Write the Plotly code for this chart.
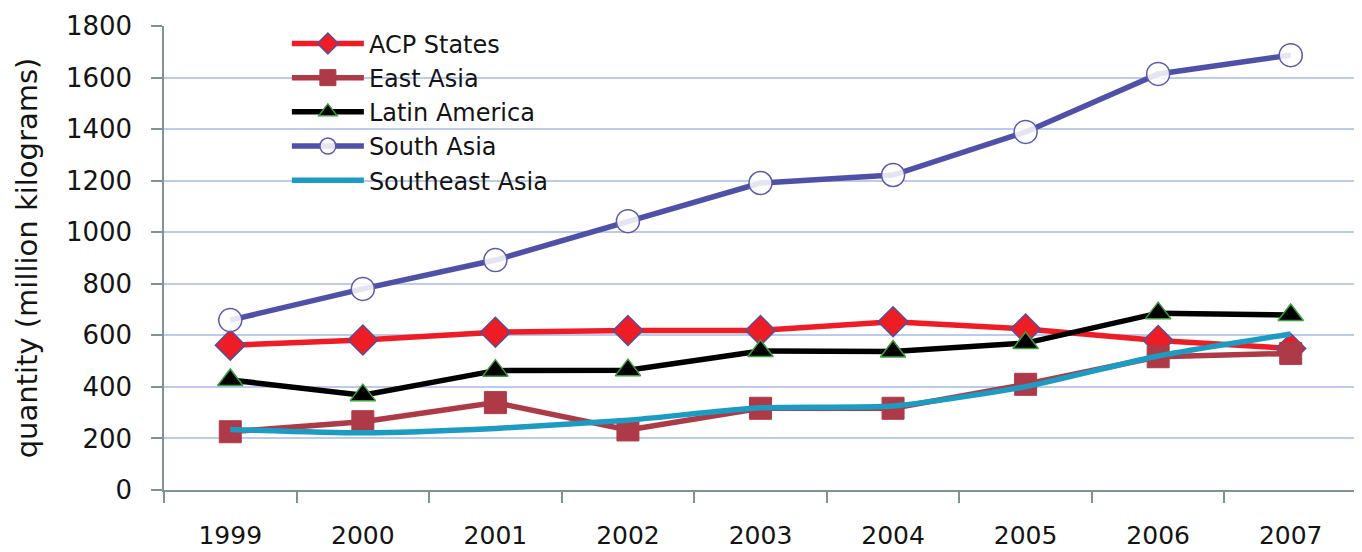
import plotly.graph_objects as go

years = ["1999", "2000", "2001", "2002", "2003", "2004", "2005", "2006", "2007"]
acp_states = [562, 582, 612, 619, 619, 653, 625, 580, 549]
east_asia = [226, 265, 339, 233, 317, 317, 410, 517, 530]
latin_america = [427, 368, 463, 465, 539, 537, 570, 686, 679]
south_asia = [659, 780, 892, 1043, 1191, 1222, 1389, 1614, 1687]
southeast_asia = [235, 222, 239, 271, 319, 326, 401, 520, 605]

y_ticks = [0, 200, 400, 600, 800, 1000, 1200, 1400, 1600, 1800]

FONT = "DejaVu Sans"
TXT = "#141414"
AXIS = "#7F9396"

fig = go.Figure()
fig.add_trace(go.Scatter(
    x=years, y=acp_states, name="ACP States", mode="lines+markers",
    line=dict(color="#EE1C25", width=5.5),
    marker=dict(symbol="diamond", size=23, color="#EE1C25",
                line=dict(color="#5A4E9A", width=1.5)),
))
fig.add_trace(go.Scatter(
    x=years, y=east_asia, name="East Asia", mode="lines+markers",
    line=dict(color="#AE3A47", width=5.5),
    marker=dict(symbol="square", size=22, color="#AE3A47",
                line=dict(color="#AE3A47", width=1)),
))
fig.add_trace(go.Scatter(
    x=years, y=latin_america, name="Latin America", mode="lines+markers",
    line=dict(color="#000000", width=5.5),
    marker=dict(symbol="triangle-up", size=22, color="#000000",
                line=dict(color="#3E9E3A", width=1.5)),
))
fig.add_trace(go.Scatter(
    x=years, y=south_asia, name="South Asia", mode="lines+markers",
    line=dict(color="#4F51A8", width=5.5),
    marker=dict(symbol="circle", size=23, color="rgba(255,255,255,0.85)",
                line=dict(color="#5A5AAE", width=1.5)),
))
fig.add_trace(go.Scatter(
    x=years, y=southeast_asia, name="Southeast Asia", mode="lines",
    line=dict(color="#1C9CC2", width=5.5, shape="spline", smoothing=0.6),
))

fig.update_layout(
    width=1354, height=544,
    margin=dict(l=156, r=5, t=18, b=62, autoexpand=False),
    paper_bgcolor="white", plot_bgcolor="white",
    font=dict(family=FONT, color=TXT),
    showlegend=True,
    legend=dict(
        x=0.103, y=1.01, xanchor="left", yanchor="top",
        font=dict(family=FONT, size=24, color=TXT),
        bgcolor="rgba(255,255,255,0)", tracegroupgap=0,
        itemwidth=72,
    ),
    xaxis=dict(
        type="category", range=[-0.5, 8.5], automargin=False,
        showline=True, linecolor=AXIS, linewidth=1.5,
        ticks="outside", ticklen=11, tickcolor=AXIS, tickwidth=1.5,
        tickson="boundaries", showgrid=False,
        tickfont=dict(family=FONT, size=25, color=TXT),
        ticklabelstandoff=22,
    ),
    yaxis=dict(
        range=[0, 1800], tickvals=y_ticks, automargin=False,
        showline=True, linecolor=AXIS, linewidth=1.5,
        ticks="outside", ticklen=11, tickcolor=AXIS, tickwidth=1.5,
        showgrid=True, gridcolor="#BCCBEC", gridwidth=2,
        zeroline=False,
        tickfont=dict(family=FONT, size=26, color=TXT),
        ticklabelstandoff=14,
        title=dict(text="quantity (million kilograms)",
                   font=dict(family=FONT, size=29, color=TXT), standoff=20),
    ),
)

fig.write_html("out.html")
